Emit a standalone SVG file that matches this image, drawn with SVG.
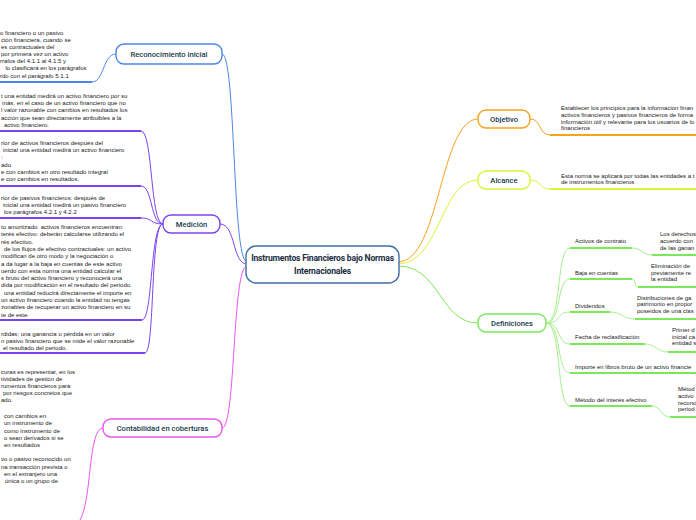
<svg xmlns="http://www.w3.org/2000/svg" width="696" height="520" viewBox="0 0 696 520">
<style>
.t{font-family:"Liberation Sans",Arial,sans-serif;font-size:6px;fill:#222}
.lbl{font-family:Roboto,"Liberation Sans",sans-serif;font-size:7.6px;font-weight:500;fill:#163a4a;text-anchor:middle}
.ctr{font-family:Roboto,"Liberation Sans",sans-serif;font-size:8.6px;font-weight:700;fill:#1b2d3f;text-anchor:middle;letter-spacing:-0.2px}
.box{fill:#fff;stroke-width:1.4}
.c{fill:none;stroke-width:1}
.u{fill:none;stroke-width:2}
.blue{stroke:#4d86e6}.purple{stroke:#7a44f0}.mag{stroke:#ea55f0}.orange{stroke:#f6a21e}.yel{stroke:#d9f53a}.green{stroke:#7be85a}.lgreen{stroke:#a6f08e}
</style>

<g id="connectors">
  <path class="c blue" d="M247,262 C232,262 236,54 222,54"/>
  <path class="c purple" d="M247,264 C232,264 236,224 220,224"/>
  <path class="c mag" d="M247,266 C232,266 236,428 222,428"/>
  <path class="c orange" d="M398,262 C440,262 440,119 478,119"/>
  <path class="c yel" d="M398,264 C440,264 440,180 478,180"/>
  <path class="c green" d="M398,266 C440,266 440,323 478,323"/>
  <path class="c blue" d="M116,54 C103,54 104,82 92,82"/>
  <path class="u blue" d="M0,82 H92"/>
  <path class="c purple" d="M163,224 C150,224 153,131 141,131"/>
  <path class="c purple" d="M163,224 C150,224 153,186 141,186"/>
  <path class="c purple" d="M163,224 C150,224 153,218 141,218"/>
  <path class="c purple" d="M163,224 C150,224 153,320 142,320"/>
  <path class="c purple" d="M163,224 C150,224 155,353 145,353"/>
  <path class="u purple" d="M0,131 H141 M0,186 H141 M0,218 H141 M0,320 H142 M0,353 H145"/>
  <path class="c mag" d="M103,428 C88,428 92,500 80,520"/>
  <path class="c orange" d="M530,119 C542,119 538,135 550,135"/>
  <path class="u orange" d="M550,135 H696"/>
  <path class="c yel" d="M530,180 C542,180 538,189 550,189"/>
  <path class="u yel" d="M550,189 H696"/>
  <path class="c lgreen" d="M546,323 C562,323 556,248 570,248"/>
  <path class="c lgreen" d="M546,323 C562,323 556,279 570,279"/>
  <path class="c lgreen" d="M546,323 C562,323 556,312 570,312"/>
  <path class="c lgreen" d="M546,323 C562,323 556,344 570,344"/>
  <path class="c lgreen" d="M546,323 C562,323 556,373 570,373"/>
  <path class="c lgreen" d="M546,323 C562,323 556,406 570,406"/>
  <path class="u green" d="M570,248 H632 M570,279 H632 M570,312 H610 M570,344 H645 M570,373 H696 M570,406 H652"/>
  <path class="c lgreen" d="M632,248 C642,248 642,255 652,255 M632,279 C636,279 634,287 638,287 M610,312 C622,312 623,319 635,319 M645,344 C656,344 657,352 668,352 M652,406 C661,406 661,417 670,417"/>
  <path class="u green" d="M652,255 H696 M638,287 H696 M635,319 H696 M668,352 H696 M670,417 H696"/>
</g>

<g id="central">
  <rect x="246" y="246" width="153" height="37" rx="10" fill="#fff" stroke="#3e6ea3" stroke-width="1.4"/>
  <text class="ctr" x="322.5" y="261">Instrumentos Financieros bajo Normas</text>
  <text class="ctr" x="322.5" y="273.5">Internacionales</text>
</g>

<g id="reconocimiento">
  <rect class="box blue" x="116" y="44" width="106" height="20" rx="8"/>
  <text class="lbl" x="169" y="57">Reconocimiento inicial</text>
  <text class="t" x="0" y="35.2">o financiero o un pasivo</text>
  <text class="t" x="1" y="42.2">ción financiera, cuando se</text>
  <text class="t" x="1" y="49.3">es contractuales del</text>
  <text class="t" x="1" y="56.3">por primera vez un activo</text>
  <text class="t" x="0" y="63.4">rrafos del 4.1.1 al 4.1.5 y</text>
  <text class="t" x="5.5" y="70.4">lo clasificará en los parágrafos</text>
  <text class="t" x="0" y="77.5">rdo con el parágrafo 5.1.1</text>
</g>

<g id="medicion">
  <rect class="box purple" x="163" y="215" width="57" height="18" rx="8"/>
  <text class="lbl" x="191.5" y="227">Medición</text>
  <text class="t" x="1" y="97.6">t una entidad medirá un activo financiero por su</text>
  <text class="t" x="2" y="104.9">más, en el caso de un activo financiero que no</text>
  <text class="t" x="1" y="112.2">l valor razonable con cambios en resultados los</text>
  <text class="t" x="1" y="119.5">acción que sean directamente atribuibles a la</text>
  <text class="t" x="4" y="126.8">activo financiero.</text>

  <text class="t" x="1" y="144.7">rior de activos financieros después del</text>
  <text class="t" x="3" y="152">inicial una entidad medirá un activo financiero</text>
  <text class="t" x="1" y="159.3">:</text>
  <text class="t" x="1" y="166.6">ado</text>
  <text class="t" x="1" y="173.9">e con cambios en otro resultado integral</text>
  <text class="t" x="1" y="181.2">e con cambios en resultados.</text>

  <text class="t" x="1" y="200.3">rior de pasivos financieros: después de</text>
  <text class="t" x="3" y="207.3">inicial una entidad medirá un pasivo financiero</text>
  <text class="t" x="4" y="214.3">los parágrafos 4.2.1 y 4.2.2</text>

  <text class="t" x="1" y="229">to amortizado: activos financieros encuentran:</text>
  <text class="t" x="1" y="236.3">terés efectivo: deberán calcularse utilizando el</text>
  <text class="t" x="1" y="243.6">rés efectivo.</text>
  <text class="t" x="4" y="250.9">de los flujos de efectivo contractuales: un activo</text>
  <text class="t" x="1" y="258.2">modifican de otro modo y la negociación o</text>
  <text class="t" x="1" y="265.5">a da lugar a la baja en cuentas de este activo</text>
  <text class="t" x="1" y="272.8">uerdo con esta norma una entidad calcular el</text>
  <text class="t" x="1" y="280.1">s bruto del activo financiero y reconocerá una</text>
  <text class="t" x="1" y="287.4">dida por modificación en el resultado del periodo.</text>
  <text class="t" x="4" y="294.7">una entidad reducirá directamente el importe en</text>
  <text class="t" x="1" y="302">un activo financiero cuando la entidad no tengas</text>
  <text class="t" x="1" y="309.3">zonables de recuperar un activo financiero en su</text>
  <text class="t" x="1" y="316.6">te de este.</text>

  <text class="t" x="1" y="335.5">rdidas: una ganancia o pérdida en un valor</text>
  <text class="t" x="1" y="342.5">n pasivo financiero que se mide el valor razonable</text>
  <text class="t" x="3" y="349.5">el resultado del periodo.</text>
</g>

<g id="contabilidad">
  <rect class="box mag" x="103" y="419" width="119" height="18" rx="8"/>
  <text class="lbl" x="162.5" y="431">Contabilidad en coberturas</text>
  <text class="t" x="1" y="373.5">curas es representar, en los</text>
  <text class="t" x="1" y="380.5">tividades de gestión de</text>
  <text class="t" x="1" y="387.5">rumentos financieros para</text>
  <text class="t" x="3" y="394.5">por riesgos concretos que</text>
  <text class="t" x="1" y="401.5">ado.</text>

  <text class="t" x="4" y="418.2">con cambios en</text>
  <text class="t" x="4" y="425.4">un instrumento de</text>
  <text class="t" x="4" y="432.6">como instrumento de</text>
  <text class="t" x="4" y="439.8">o sean derivados si se</text>
  <text class="t" x="4" y="447">en resultados</text>

  <text class="t" x="1" y="461.3">vo o pasivo reconocido un</text>
  <text class="t" x="1" y="468.6">na transacción prevista o</text>
  <text class="t" x="4" y="475.9">en el extranjero una</text>
  <text class="t" x="5" y="483.2">única o un grupo de</text>
</g>

<g id="objetivo">
  <rect class="box orange" x="478" y="110" width="52" height="18" rx="8"/>
  <text class="lbl" x="504" y="122">Objetivo</text>
  <text class="t" x="561" y="110.3">Establecer los principios para la información finan</text>
  <text class="t" x="561" y="117">activos financieros y pasivos financieros de forma</text>
  <text class="t" x="561" y="123.7">información útil y relevante para los usuarios de lo</text>
  <text class="t" x="561" y="130.4">financieros</text>
</g>

<g id="alcance">
  <rect class="box yel" x="478" y="171" width="52" height="18" rx="8"/>
  <text class="lbl" x="504" y="183">Alcance</text>
  <text class="t" x="561" y="177.7">Esta norma se aplicará por todas las entidades a t</text>
  <text class="t" x="561" y="184.3">de instrumentos financieros</text>
</g>

<g id="definiciones">
  <rect class="box green" x="478" y="314" width="68" height="18" rx="8"/>
  <text class="lbl" x="512" y="326">Definiciones</text>
  <text class="t" x="575" y="243">Activos de contrato</text>
  <text class="t" x="660" y="236.3">Los derechos</text>
  <text class="t" x="660" y="243">acuerdo con</text>
  <text class="t" x="660" y="249.7">de las ganan</text>

  <text class="t" x="575" y="275.3">Baja en cuentas</text>
  <text class="t" x="651" y="267.7">Eliminación de</text>
  <text class="t" x="651" y="274.7">previamente re</text>
  <text class="t" x="651" y="281.3">la entidad</text>

  <text class="t" x="575" y="307.7">Dividendos</text>
  <text class="t" x="637" y="299.7">Distribuciones de ga</text>
  <text class="t" x="637" y="306.3">patrimonio en propor</text>
  <text class="t" x="637" y="313">poseídos de una clas</text>

  <text class="t" x="575" y="339.3">Fecha de reclasificación</text>
  <text class="t" x="672" y="332">Primer d</text>
  <text class="t" x="672" y="338.7">inicial ca</text>
  <text class="t" x="672" y="345.3">entidad s</text>

  <text class="t" x="575" y="368.7">Importe en libros bruto de un activo financie</text>

  <text class="t" x="575" y="402">Método del interés efectivo</text>
  <text class="t" x="678" y="391.3">Métod</text>
  <text class="t" x="678" y="397.7">activo</text>
  <text class="t" x="678" y="404.7">recono</text>
  <text class="t" x="678" y="411.3">period</text>
</g>
</svg>
